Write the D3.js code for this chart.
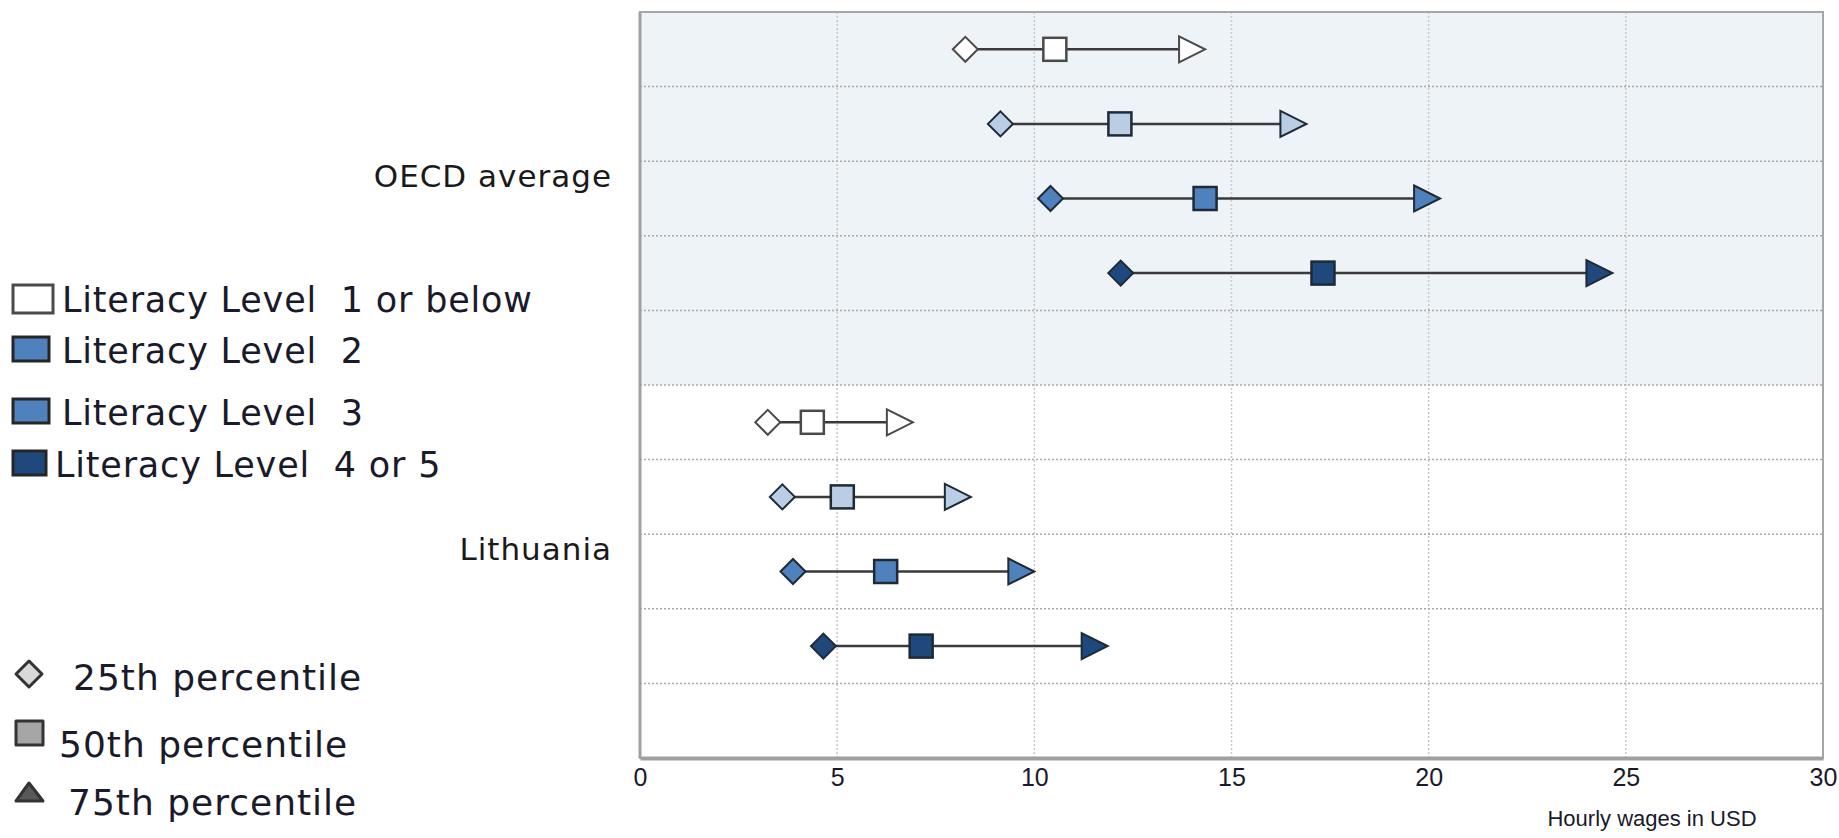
<!DOCTYPE html>
<html>
<head>
<meta charset="utf-8">
<script src="https://cdn.jsdelivr.net/npm/d3@7"></script>
<style>
  html, body { margin: 0; padding: 0; background: #fff; }
  svg { display: block; }
  text { white-space: pre; }
</style>
</head>
<body>
<div id="grafica"></div>
<script>
// datos (salario por hora, USD)
var grupos = ["OECD average", "Lithuania"];
var niveles = ["Literacy Level  1 or below", "Literacy Level  2", "Literacy Level  3", "Literacy Level  4 or 5"];
var percentiles = ["25th percentile", "50th percentile", "75th percentile"];

var oecdP25 = [8.25, 9.14, 10.41, 12.19];
var oecdP50 = [10.52, 12.17, 14.33, 17.32];
var oecdP75 = [14.0, 16.57, 19.96, 24.33];

var ltuP25 = [3.24, 3.61, 3.88, 4.65];
var ltuP50 = [4.37, 5.13, 6.23, 7.13];
var ltuP75 = [6.59, 8.06, 9.67, 11.53];

var ticksX = [0, 5, 10, 15, 20, 25, 30];

var colNivel = ["#ffffff", "#b9cde5", "#4f81bd", "#1f497d"];
var colLeyenda = ["#ffffff", "#4f81bd", "#4f81bd", "#1f497d"];

var W = 1839, H = 838;
var m = {t: 12, r: 16, b: 80, l: 640};

var svg = d3.select('#grafica').append('svg')
	.attr('width', W)
	.attr('height', H);

// filas: 4 niveles + 1 vacia por grupo
var filas = [];
var datos = [];
var series = {"OECD average": [oecdP25, oecdP50, oecdP75], "Lithuania": [ltuP25, ltuP50, ltuP75]};
grupos.forEach(function(g) {
	niveles.forEach(function(n, i) {
		var id = g + '|' + i;
		filas.push(id);
		datos.push({fila: id, grupo: g, nivel: i,
			p25: series[g][0][i], p50: series[g][1][i], p75: series[g][2][i]});
	});
	filas.push(g + '|vacio');
});

var x = d3.scaleLinear().domain([0, 30]).range([m.l, W - m.r]);
var y = d3.scaleBand().domain(filas).range([m.t, H - m.b]);
var yMid = function(id) { return y(id) + y.bandwidth() / 2; };

// fondo sombreado del grupo OECD
svg.append('rect')
	.attr('x', x(0))
	.attr('y', y(filas[0]))
	.attr('width', x(30) - x(0))
	.attr('height', y.bandwidth() * 5)
	.attr('fill', '#eef3f8');

// rejilla vertical
svg.selectAll('.gridx').data(ticksX.slice(1, -1))
	.enter().append('line')
	.attr('class', 'gridx')
	.attr('x1', function(d) { return x(d); })
	.attr('x2', function(d) { return x(d); })
	.attr('y1', m.t)
	.attr('y2', H - m.b)
	.attr('stroke', '#c8c8c8')
	.attr('stroke-width', 1.5)
	.attr('stroke-dasharray', '2,2');

// separadores de filas
svg.selectAll('.gridy').data(filas.slice(1))
	.enter().append('line')
	.attr('class', 'gridy')
	.attr('x1', x(0))
	.attr('x2', x(30))
	.attr('y1', function(d) { return y(d); })
	.attr('y2', function(d) { return y(d); })
	.attr('stroke', '#a8a8a8')
	.attr('stroke-width', 1.5)
	.attr('stroke-dasharray', '2,2');

// marco
svg.append('rect')
	.attr('x', x(0))
	.attr('y', m.t)
	.attr('width', x(30) - x(0))
	.attr('height', H - m.b - m.t)
	.attr('fill', 'none')
	.attr('stroke', '#a6a6a6')
	.attr('stroke-width', 2);

svg.append('line')
	.attr('x1', x(0)).attr('x2', x(0))
	.attr('y1', m.t).attr('y2', H - m.b)
	.attr('stroke', '#a0a0a0').attr('stroke-width', 3);

// eje x
var ejeX = svg.append('g')
	.attr('transform', 'translate(0,' + (H - m.b) + ')')
	.call(d3.axisBottom(x).tickValues(ticksX).tickSize(0).tickPadding(10));
ejeX.select('.domain').attr('stroke', '#a0a0a0').attr('stroke-width', 4);
ejeX.selectAll('text')
	.attr('font-family', '"Liberation Sans Narrow", "Liberation Sans", sans-serif')
	.attr('font-size', 25)
	.attr('fill', '#1a1a2a');

svg.append('text')
	.attr('x', 1652)
	.attr('y', 826)
	.attr('text-anchor', 'middle')
	.attr('font-family', '"Liberation Sans Narrow", "Liberation Sans", sans-serif')
	.attr('font-size', 22)
	.attr('fill', '#1a1a2a')
	.text('Hourly wages in USD');

// etiquetas de grupo
svg.selectAll('.grupo').data(grupos)
	.enter().append('text')
	.attr('class', 'grupo')
	.attr('x', 612)
	.attr('y', function(g) { return yMid(g + '|1') + y.bandwidth() / 2 + 26; })
	.attr('text-anchor', 'end')
	.attr('font-family', '"DejaVu Sans", Verdana, sans-serif')
	.attr('font-size', 31)
	.attr('letter-spacing', 1)
	.attr('fill', '#1a1a1a')
	.text(function(g) { return g; });

// lineas p25 - p75
var filasG = svg.selectAll('.fila').data(datos)
	.enter().append('g')
	.attr('class', 'fila')
	.attr('transform', function(d) { return 'translate(0,' + yMid(d.fila) + ')'; });

filasG.append('line')
	.attr('x1', function(d) { return x(d.p25); })
	.attr('x2', function(d) { return x(d.p75); })
	.attr('stroke', '#3a3a3a')
	.attr('stroke-width', 2.5);

var trazo = function(d) { return d.nivel === 0 ? '#4a4a4a' : '#1e2a36'; };

// rombo p25
filasG.append('path')
	.attr('d', 'M-12.5,0L0,-12.5L12.5,0L0,12.5Z')
	.attr('transform', function(d) { return 'translate(' + x(d.p25) + ',0)'; })
	.attr('fill', function(d) { return colNivel[d.nivel]; })
	.attr('stroke', trazo)
	.attr('stroke-width', 2);

// cuadro p50
filasG.append('rect')
	.attr('x', function(d) { return x(d.p50) - 11.5; })
	.attr('y', -11.5)
	.attr('width', 23)
	.attr('height', 23)
	.attr('fill', function(d) { return colNivel[d.nivel]; })
	.attr('stroke', trazo)
	.attr('stroke-width', 2.5);

// triangulo p75
filasG.append('path')
	.attr('d', 'M-13,-13L13,0L-13,13Z')
	.attr('transform', function(d) { return 'translate(' + x(d.p75) + ',0)'; })
	.attr('fill', function(d) { return colNivel[d.nivel]; })
	.attr('stroke', trazo)
	.attr('stroke-width', 2);

// leyenda de niveles
var leyY = [300, 351, 413, 465];
var ley = svg.selectAll('.ley').data(niveles)
	.enter().append('g')
	.attr('class', 'ley')
	.attr('transform', function(d, i) { return 'translate(0,' + leyY[i] + ')'; });

ley.append('rect')
	.attr('x', 13)
	.attr('y', function(d, i) { return i === 0 ? -15 : -14; })
	.attr('width', function(d, i) { return i === 0 ? 40 : (i === 3 ? 33 : 36); })
	.attr('height', function(d, i) { return i === 0 ? 28 : 24; })
	.attr('fill', function(d, i) { return colLeyenda[i]; })
	.attr('stroke', function(d, i) { return i === 0 ? '#4a4a4a' : '#262626'; })
	.attr('stroke-width', 3);

ley.append('text')
	.attr('x', function(d, i) { return i === 3 ? 55 : 62; })
	.attr('y', 12)
	.attr('font-family', '"DejaVu Sans", Verdana, sans-serif')
	.attr('font-size', 35)
	.attr('letter-spacing', 0.8)
	.attr('fill', '#1a1a2a')
	.text(function(d) { return d; });

// leyenda de percentiles
var pctY = [678, 745, 803];
var pctX = [73, 59, 68];
var pct = svg.selectAll('.pct').data(percentiles)
	.enter().append('g')
	.attr('class', 'pct')
	.attr('transform', function(d, i) { return 'translate(0,' + pctY[i] + ')'; });

pct.append('path')
	.attr('d', function(d, i) {
		if (i === 0) return 'M16,-4L29,-17L42,-4L29,9Z';
		if (i === 1) return 'M16,-24H43V0H16Z';
		return 'M16,-2L29,-20L43,-2Z';
	})
	.attr('fill', function(d, i) { return ['#d9d9d9', '#a6a6a6', '#595959'][i]; })
	.attr('stroke', '#333')
	.attr('stroke-width', 3)
	.attr('stroke-linejoin', 'round');

pct.append('text')
	.attr('x', function(d, i) { return pctX[i]; })
	.attr('y', 12)
	.attr('font-family', '"DejaVu Sans", Verdana, sans-serif')
	.attr('font-size', 36)
	.attr('letter-spacing', 1)
	.attr('fill', '#1a1a2a')
	.text(function(d) { return d; });
</script>
</body>
</html>
